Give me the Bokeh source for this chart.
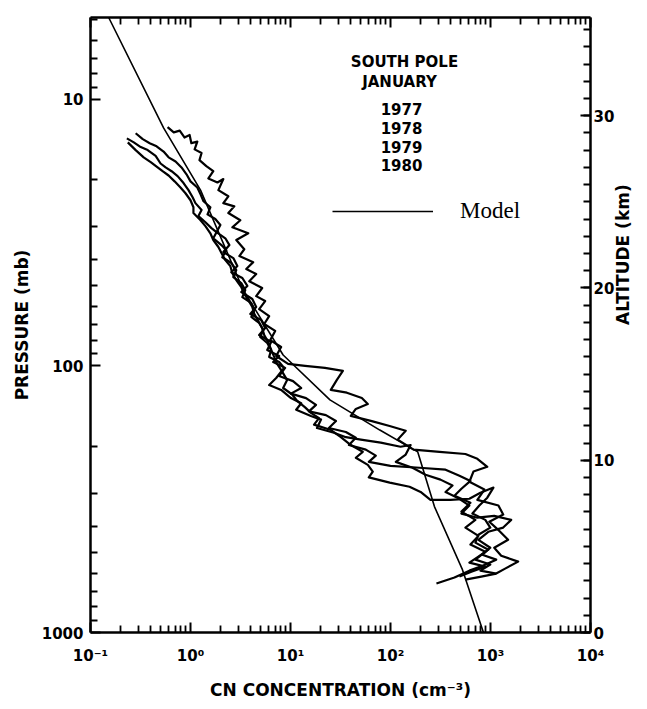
import math
from bokeh.plotting import figure
from bokeh.models import (Range1d, LinearScale, LinearAxis, LogAxis, FixedTicker,
                          SingleIntervalTicker, Label, Legend, LegendItem)
from bokeh.embed import file_html
from bokeh.resources import INLINE

# ---------------- data ----------------
years = ["1977", "1978", "1979", "1980"]

# CN concentration (cm^-3) and pressure (mb) for each balloon profile
cn_1977 = [0.59, 0.68, 0.78, 0.87, 0.98, 1.02, 1.17, 1.10, 1.29, 1.23,
           1.44, 1.69, 1.51, 1.86, 2.13, 1.90, 2.39, 2.13, 2.74, 2.39,
           3.15, 2.62, 3.78, 2.87, 3.45, 3.08, 4.24, 3.61, 4.54, 3.87,
           5.21, 4.54, 5.58, 4.86, 6.12, 5.46, 7.03, 6.27, 8.06, 7.19,
           9.46, 14.0, 22.1, 33.4, 29.1, 25.3, 36.6, 51.7, 59.3, 45.0,
           40.1, 65.0, 98, 142, 118, 170, 309, 561, 739, 929,
           675, 615, 869, 739, 1200, 1340, 973, 1220, 1500, 1090,
           1280, 1890, 1400, 1140, 809, 561]
p_1977 = [12.7, 13.3, 13.1, 13.9, 13.6, 14.6, 14.4, 15.4, 15.9, 16.9,
          17.8, 18.6, 19.8, 20.5, 19.9, 21.9, 23.1, 24.5, 25.2, 26.7,
          28.4, 30.2, 31.8, 33.7, 36.5, 38.7, 40.8, 43.3, 45.2, 48.1,
          51.0, 54.7, 57.1, 61.2, 65.0, 69.6, 73.9, 80.0, 84.9, 91.8,
          98.3, 100, 101.7, 104.4, 112.8, 123, 126, 132, 139, 145,
          154, 161, 168, 175, 189, 206, 210, 214, 223, 239,
          249, 272, 291, 318, 334, 361, 384, 415, 449, 481,
          515, 542, 576, 601, 617, 633]

cn_1978 = [0.283, 0.333, 0.391, 0.458, 0.538, 0.604, 0.709, 0.813, 0.912, 1.0,
           1.17, 1.26, 1.35, 1.58, 1.48, 1.77, 1.99, 1.82, 2.23, 2.45,
           2.13, 2.68, 2.94, 2.56, 3.30, 3.70, 3.22, 4.15, 4.54, 3.96,
           5.09, 5.58, 4.86, 6.41, 5.85, 7.70, 6.71, 8.84, 7.70, 10.6,
           12.8, 10.1, 14.3, 18.0, 15.3, 22.6, 28.5, 24.2, 35.8, 45.0,
           38.4, 56.6, 71.3, 60.7, 100, 195, 355, 489, 630, 512,
           436, 630, 512, 706, 561, 757, 630, 887, 706, 995,
           793, 1140]
p_1978 = [13.4, 14.1, 14.6, 15.0, 15.7, 16.5, 17.1, 18.0, 19.1, 20.3,
          21.4, 22.7, 24.1, 25.4, 27.0, 28.1, 29.6, 31.5, 33.2, 35.2,
          37.4, 39.4, 42.2, 44.5, 46.8, 50.1, 52.8, 56.1, 60.1, 63.8,
          67.3, 72.1, 76.6, 81.3, 87.1, 91.8, 96.6, 101.7, 109, 114,
          121, 127, 132, 140, 148, 153, 161, 171, 177, 186,
          198, 206, 217, 229, 237, 241, 245, 258, 270, 289,
          307, 326, 352, 378, 404, 434, 468, 498, 533, 556,
          586, 601]

cn_1979 = [0.236, 0.283, 0.340, 0.400, 0.469, 0.526, 0.604, 0.693, 0.794, 0.891,
           1.0, 1.07, 1.07, 1.26, 1.41, 1.58, 1.69, 1.90, 2.04, 2.23,
           2.50, 2.62, 2.87, 3.22, 3.45, 3.78, 4.15, 4.34, 4.76, 5.21,
           5.46, 5.98, 6.41, 6.87, 7.36, 8.25, 9.25, 8.44, 10.4, 11.6,
           14.0, 16.0, 19.3, 17.2, 25.4, 31.9, 40.1, 52.8, 45.0, 59.3,
           66.5, 60.7, 98.2, 155, 200, 251, 398, 615, 793, 1070,
           929, 773, 659, 887, 995, 757, 706, 951, 757, 615,
           887, 644, 489]
p_1979 = [14.5, 15.5, 16.5, 17.2, 18.0, 18.6, 19.3, 20.3, 21.4, 22.5,
          23.9, 25.4, 26.7, 28.4, 29.9, 31.8, 33.7, 35.8, 37.7, 40.1,
          42.2, 44.9, 47.6, 50.6, 53.7, 56.6, 60.1, 63.8, 67.8, 72.1,
          76.6, 81.3, 87.1, 92.5, 98.3, 105, 113, 121, 128, 135,
          143, 150, 157, 166, 174, 185, 198, 210, 221, 235,
          249, 262, 274, 284, 297, 318, 318, 315, 299, 286,
          312, 334, 358, 378, 404, 430, 460, 489, 519, 547,
          566, 591, 617]

cn_1980 = [0.231, 0.271, 0.318, 0.373, 0.448, 0.502, 0.564, 0.647, 0.743, 0.852,
           0.955, 1.05, 1.12, 1.29, 1.20, 1.41, 1.62, 1.82, 1.69, 2.04,
           2.28, 2.08, 2.56, 2.87, 2.68, 3.22, 3.53, 3.30, 4.06, 4.34,
           4.06, 4.86, 5.34, 4.98, 5.85, 6.41, 6.12, 7.70, 8.63, 7.19,
           6.12, 8.06, 10.1, 12.8, 11.4, 16.0, 20.2, 18.4, 27.2, 35.8,
           50.5, 79.9, 126, 159, 142, 113, 166, 224, 316, 417,
           355, 467, 615, 512, 739, 1090, 1610, 1340, 951, 757,
           995, 828, 1140, 847, 615, 436, 288]
p_1980 = [14.0, 14.5, 15.1, 15.5, 16.3, 17.4, 18.0, 18.6, 19.4, 20.6,
          21.9, 23.3, 24.5, 26.0, 27.4, 28.9, 30.4, 31.5, 33.2, 35.2,
          36.8, 39.1, 41.1, 43.7, 46.4, 48.9, 51.9, 55.2, 58.1, 61.7,
          65.5, 69.0, 73.3, 77.9, 82.0, 87.1, 92.5, 96.6, 101.7, 111,
          118, 123, 132, 138, 146, 154, 159, 171, 178, 185,
          189, 194, 201, 198, 215, 229, 241, 256, 267, 281,
          297, 312, 334, 358, 371, 365, 378, 404, 419, 449,
          481, 511, 533, 561, 586, 622, 655]

# model profile
model_cn = [0.152, 0.538, 1.26, 3.37, 8.44, 24.8, 78.2, 187, 275, 524, 850]
model_p = [4.93, 12.8, 21.9, 51.9, 91, 134, 174, 210, 337, 581, 1000]

# axes
x_ticks = [0.1, 1, 10, 100, 1000, 10000]
x_tick_labels = ["10⁻¹", "10⁰", "10¹", "10²", "10³", "10⁴"]
p_ticks = [10, 100, 1000]
p_tick_labels = ["10", "100", "1000"]
x_limits = (0.1, 10000)
p_limits = (1000, 4.93)
alt_limits = (0, 35.7)

profiles = [(cn_1977, p_1977), (cn_1978, p_1978), (cn_1979, p_1979), (cn_1980, p_1980)]

# ---------------- figure ----------------
FONT = "DejaVu Sans"

p = figure(width=647, height=709, x_axis_type="log", y_axis_type="log",
           x_range=Range1d(*x_limits), y_range=Range1d(*p_limits),
           output_backend="svg", toolbar_location=None,
           min_border_left=90, min_border_right=57, min_border_top=17,
           min_border_bottom=77)
p.grid.visible = False
p.outline_line_color = None
p.background_fill_color = "white"
p.border_fill_color = "white"

x_minor = [k * 10.0 ** e for e in range(-1, 4) for k in range(2, 10)]
p_minor = [k * 10.0 ** e for e in range(0, 3) for k in range(2, 10) if k * 10.0 ** e >= 5]


def style_axis(ax):
    ax.axis_line_width = 2.5
    ax.axis_line_color = "black"
    ax.major_tick_line_width = 2
    ax.major_tick_line_color = "black"
    ax.minor_tick_line_width = 1.8
    ax.minor_tick_line_color = "black"
    ax.major_tick_in = 10
    ax.major_tick_out = 0
    ax.minor_tick_in = 7
    ax.minor_tick_out = 0
    ax.major_label_text_font = FONT
    ax.major_label_text_font_style = "bold"
    ax.major_label_text_font_size = "15px"
    ax.major_label_text_color = "black"
    ax.axis_label_text_font = FONT
    ax.axis_label_text_font_style = "bold"
    ax.axis_label_text_font_size = "17px"
    ax.axis_label_text_color = "black"


# bottom axis
xb = p.xaxis[0]
xb.ticker = FixedTicker(ticks=x_ticks, minor_ticks=x_minor)
xb.major_label_overrides = dict(zip(x_ticks, x_tick_labels))
xb.axis_label = "CN CONCENTRATION (cm⁻³)"
style_axis(xb)
xb.major_label_standoff = 14
xb.axis_label_standoff = 12

# left axis
yl = p.yaxis[0]
yl.ticker = FixedTicker(ticks=p_ticks, minor_ticks=p_minor)
yl.major_label_overrides = dict(zip(p_ticks, p_tick_labels))
yl.axis_label = "PRESSURE (mb)"
style_axis(yl)
yl.major_label_standoff = 7
yl.axis_label_standoff = 7

# top axis (ticks only)
xt = LogAxis(ticker=FixedTicker(ticks=x_ticks, minor_ticks=x_minor))
style_axis(xt)
xt.major_label_overrides = {t: "" for t in x_ticks}
xt.major_label_text_font_size = "0px"
xt.major_label_standoff = 0
p.add_layout(xt, "above")

# right axis: altitude
p.extra_y_ranges = {"alt": Range1d(*alt_limits)}
p.extra_y_scales = {"alt": LinearScale()}
yr = LinearAxis(y_range_name="alt",
                ticker=SingleIntervalTicker(interval=10, num_minor_ticks=10),
                axis_label="ALTITUDE (km)")
style_axis(yr)
yr.major_label_standoff = 3
yr.axis_label_standoff = 6
yr.axis_label_orientation = math.pi / 2
p.add_layout(yr, "right")

# profiles
for cn, pr in profiles:
    p.line(cn, pr, line_color="black", line_width=2.2, line_join="round")

model_r = p.line(model_cn, model_p, line_color="black", line_width=1.6)

# annotations
def add_label(x, y, text, size="15px", font=FONT, style="bold"):
    p.add_layout(Label(x=x, y=y, text=text, text_align="center",
                       text_baseline="middle", text_font=font,
                       text_font_style=style, text_font_size=size,
                       text_color="black"))

add_label(138, 7.26, "SOUTH POLE")
add_label(123, 8.57, "JANUARY")
for yr_text, yv in zip(years, [10.9, 12.8, 15.1, 17.7]):
    add_label(129, yv, yr_text)

legend = Legend(items=[LegendItem(label="Model", renderers=[model_r])],
                location=(242, 408), glyph_width=101, glyph_height=26,
                label_height=26, label_standoff=27, padding=0, margin=0,
                spacing=0, border_line_color=None, background_fill_alpha=0,
                label_text_font="Liberation Serif", label_text_font_size="23px",
                label_text_color="black")
p.add_layout(legend)

open("out.html", "w").write(file_html(p, INLINE))
